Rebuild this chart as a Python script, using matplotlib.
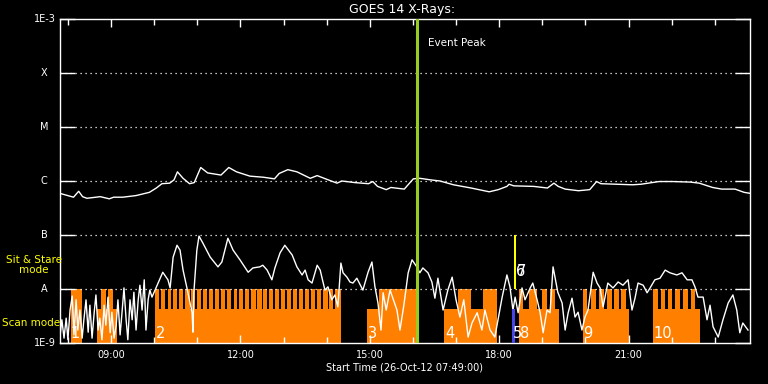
import numpy as np
import matplotlib.pyplot as plt
from matplotlib.ticker import FixedLocator, MultipleLocator, FuncFormatter

# Time axis in decimal hours (26-Oct-2012), plot spans 16 h from 07:49
START_HOUR = 7 + 49 / 60
END_HOUR = START_HOUR + 16
PEAK_HOUR = 16.10

# GOES 14 long channel (1-8 A): time (h) and log10 flux (W/m^2)
long_t = [7.82, 8.13, 8.25, 8.34, 8.44, 8.65, 8.75, 8.96, 9.06, 9.27, 9.58, 9.89,
          10.05, 10.18, 10.36, 10.46, 10.54, 10.67, 10.82, 10.93, 11.08, 11.24, 11.55,
          11.73, 11.91, 12.22, 12.53, 12.79, 12.90, 13.10, 13.31, 13.62, 13.78, 14.04,
          14.24, 14.35, 14.66, 14.97, 15.07, 15.18, 15.38, 15.49, 15.80, 16.01, 16.16,
          16.42, 16.63, 16.94, 17.35, 17.77, 17.98, 18.18, 18.23, 18.34, 18.80, 19.12,
          19.27, 19.37, 19.53, 19.84, 20.10, 20.26, 20.36, 21.09, 21.29, 21.71, 22.02,
          22.43, 22.64, 22.95, 23.16, 23.47, 23.68, 23.83]
long_logf = [-6.23, -6.30, -6.19, -6.29, -6.32, -6.30, -6.29, -6.33, -6.30, -6.30, -6.27, -6.21,
             -6.13, -6.05, -6.04, -5.98, -5.83, -5.95, -6.05, -6.03, -5.75, -5.85, -5.89,
             -5.75, -5.83, -5.91, -5.93, -5.96, -5.86, -5.79, -5.83, -5.95, -5.90, -5.98,
             -6.04, -6.00, -6.03, -6.05, -6.01, -6.10, -6.16, -6.12, -6.15, -5.96, -5.95,
             -5.98, -6.00, -6.07, -6.13, -6.20, -6.16, -6.10, -6.06, -6.09, -6.10, -6.13,
             -6.04, -6.10, -6.15, -6.18, -6.16, -6.01, -6.05, -6.07, -6.06, -6.01, -6.01,
             -6.02, -6.04, -6.12, -6.15, -6.15, -6.21, -6.23]

# GOES 14 short channel (0.5-4 A): time (h) and log10 flux (W/m^2)
short_t = [7.82, 7.86, 7.91, 7.96, 8.00, 8.05, 8.10, 8.14, 8.19, 8.23, 8.28, 8.33, 8.37,
           8.42, 8.47, 8.51, 8.56, 8.61, 8.65, 8.70, 8.74, 8.79, 8.84, 8.88, 8.93, 8.98,
           9.02, 9.07, 9.12, 9.16, 9.21, 9.25, 9.30, 9.35, 9.39, 9.44, 9.49, 9.53, 9.58,
           9.63, 9.67, 9.72, 9.77, 9.81, 9.86, 9.90, 9.95, 10.07, 10.14, 10.20, 10.32,
           10.37, 10.44, 10.53, 10.60, 10.67, 10.76, 10.88, 10.90, 10.92, 10.99, 11.04,
           11.13, 11.30, 11.48, 11.57, 11.71, 11.83, 11.99, 12.18, 12.29, 12.45, 12.52,
           12.62, 12.73, 12.80, 12.92, 13.03, 13.20, 13.31, 13.43, 13.50, 13.57, 13.66,
           13.78, 13.85, 13.96, 14.03, 14.12, 14.19, 14.26, 14.33, 14.38, 14.47, 14.54,
           14.61, 14.70, 14.84, 14.96, 15.05, 15.12, 15.19, 15.26, 15.31, 15.38, 15.47,
           15.63, 15.70, 15.79, 15.89, 15.98, 16.09, 16.16, 16.23, 16.35, 16.44, 16.51,
           16.58, 16.70, 16.81, 16.91, 17.00, 17.09, 17.18, 17.28, 17.37, 17.49, 17.60,
           17.67, 17.79, 17.90, 18.07, 18.18, 18.25, 18.32, 18.37, 18.44, 18.53, 18.60,
           18.72, 18.78, 18.88, 18.95, 19.02, 19.11, 19.18, 19.25, 19.32, 19.36, 19.46,
           19.53, 19.60, 19.69, 19.76, 19.83, 19.92, 19.99, 20.06, 20.18, 20.27, 20.34,
           20.41, 20.52, 20.64, 20.76, 20.87, 20.99, 21.08, 21.15, 21.22, 21.34, 21.43,
           21.50, 21.61, 21.73, 21.85, 21.96, 22.12, 22.24, 22.36, 22.47, 22.54, 22.61,
           22.73, 22.82, 22.89, 22.96, 23.08, 23.19, 23.31, 23.42, 23.51, 23.58, 23.65,
           23.77]
short_logf = [-8.85, -8.57, -8.91, -8.54, -8.94, -8.39, -8.13, -8.85, -8.20, -8.76, -8.39, -8.91, -8.57,
              -8.20, -8.80, -8.30, -8.91, -8.43, -8.11, -8.76, -8.54, -8.94, -8.30, -8.67, -8.15, -8.81,
              -8.43, -8.91, -8.67, -8.20, -8.85, -8.48, -7.98, -8.57, -8.94, -8.20, -8.57, -8.06, -8.76,
              -8.20, -7.93, -8.39, -7.83, -8.76, -8.20, -8.02, -8.15, -7.93, -7.80, -7.69, -7.83,
              -7.98, -7.41, -7.19, -7.28, -7.65, -7.98, -8.44, -8.80, -8.07, -7.28, -7.02,
              -7.15, -7.41, -7.59, -7.50, -7.06, -7.28, -7.46, -7.69, -7.61, -7.59, -7.56,
              -7.65, -7.83, -7.61, -7.33, -7.19, -7.37, -7.59, -7.74, -7.65, -7.83, -7.89,
              -7.56, -7.65, -8.02, -7.96, -8.20, -8.11, -8.33, -7.52, -7.70, -7.78, -7.87,
              -7.89, -7.80, -8.02, -7.69, -7.50, -7.96, -8.26, -8.76, -8.07, -8.39, -8.02,
              -8.39, -8.76, -8.30, -7.70, -7.46, -7.59, -7.70, -7.61, -7.70, -7.87, -8.17,
              -7.80, -8.39, -8.02, -7.78, -8.20, -8.52, -8.20, -8.89, -8.63, -8.44, -8.76,
              -8.39, -8.76, -8.89, -8.15, -7.74, -7.96, -8.39, -8.15, -8.44, -7.98, -8.20,
              -7.98, -7.89, -8.20, -8.44, -8.81, -8.39, -8.44, -7.59, -7.89, -8.06, -8.26,
              -8.76, -8.44, -8.17, -8.52, -8.43, -8.76, -8.52, -8.39, -7.69, -7.89, -7.98,
              -8.33, -7.89, -7.98, -7.87, -7.93, -7.83, -8.39, -8.17, -7.89, -7.93, -8.07,
              -7.98, -7.83, -7.80, -7.65, -7.70, -7.74, -7.70, -7.83, -7.83, -7.96, -8.15,
              -8.15, -8.57, -8.30, -8.70, -8.89, -8.57, -8.26, -8.11, -8.39, -8.81, -8.63,
              -8.76]

# Observation blocks (decimal hours): scan mode spans and sit & stare spans
scan_start = [8.67, 10.02, 14.94, 16.72, 18.46, 19.94, 21.57]
scan_end = [9.14, 14.33, 16.09, 17.95, 19.39, 21.01, 22.66]
stare_start = [8.07, 8.77, 8.93,
               10.02, 10.17, 10.31, 10.44, 10.58, 10.72, 10.86, 11.00, 11.14, 11.28, 11.42,
               11.56, 11.70, 11.84, 11.97, 12.11, 12.25, 12.39, 12.53, 12.67, 12.81, 12.95,
               13.09, 13.23, 13.37, 13.50, 13.64, 13.78, 13.92, 14.06, 14.20,
               15.21, 17.05, 17.63,
               18.46, 18.69, 18.99, 19.18,
               19.94, 20.13, 20.32, 20.50, 20.66, 20.83,
               21.57, 21.75, 21.92, 22.08, 22.26, 22.45]
stare_end = [8.33, 8.88, 9.05,
             10.12, 10.26, 10.40, 10.54, 10.68, 10.82, 10.95, 11.09, 11.23, 11.37, 11.51,
             11.65, 11.79, 11.93, 12.07, 12.21, 12.35, 12.49, 12.62, 12.76, 12.90, 13.04,
             13.18, 13.32, 13.46, 13.60, 13.74, 13.88, 14.02, 14.15, 14.33,
             16.09, 17.35, 17.95,
             18.55, 18.88, 19.11, 19.29,
             20.04, 20.25, 20.43, 20.62, 20.78, 20.94,
             21.68, 21.85, 22.01, 22.19, 22.38, 22.54]
blue_block = (18.30, 18.37)
yellow_block = (18.35, 18.39)

block_names = ["1", "2", "3", "4", "5", "8", "9", "10", "6", "7"]
block_hours = [8.07, 10.04, 14.96, 16.74, 18.32, 18.49, 19.95, 21.58, 18.38, 18.40]
block_flux = [1.5e-9] * 8 + [2.1e-8, 2.1e-8]

ytick_vals = [1e-9, 1e-8, 1e-7, 1e-6, 1e-5, 1e-4, 1e-3]
ytick_text = ["1E-9", "A", "B", "C", "M", "X", "1E-3"]

FLOOR = 1e-9
SCAN_TOP = 4.2e-9
STARE_TOP = 1e-8
ORANGE = "#ff8000"

plt.rcParams["font.family"] = "DejaVu Sans"
fig = plt.figure(figsize=(7.68, 3.84), dpi=100, facecolor="black")
ax = fig.add_axes([60 / 768, 1 - 343 / 384, 690 / 768, 324 / 384])
ax.set_facecolor("black")
ax.set_yscale("log")
ax.set_xlim(START_HOUR, END_HOUR)
ax.set_ylim(1e-9, 1e-3)

# observation blocks
ax.bar(scan_start, np.array([SCAN_TOP - FLOOR] * len(scan_start)),
       width=np.array(scan_end) - np.array(scan_start), bottom=FLOOR,
       align="edge", color=ORANGE, linewidth=0, zorder=1)
ax.bar(stare_start, np.array([STARE_TOP - FLOOR] * len(stare_start)),
       width=np.array(stare_end) - np.array(stare_start), bottom=FLOOR,
       align="edge", color=ORANGE, linewidth=0, zorder=1)
ax.bar(blue_block[0], SCAN_TOP - FLOOR, width=blue_block[1] - blue_block[0],
       bottom=FLOOR, align="edge", color="#4646e6", linewidth=0, zorder=4)
ax.bar(yellow_block[0], 1e-7 - 1e-8, width=yellow_block[1] - yellow_block[0],
       bottom=1e-8, align="edge", color="#ffff00", linewidth=0, zorder=4)

# dotted grid at the class levels
for lev in ytick_vals[1:-1]:
    ax.axhline(lev, color="white", linestyle=(0, (1, 3)), linewidth=0.9, zorder=2)

# GOES curves
ax.plot(long_t, np.power(10.0, long_logf), color="white", linewidth=1, zorder=3)
ax.plot(short_t, np.power(10.0, short_logf), color="white", linewidth=1, zorder=3)

# event peak
ax.axvline(PEAK_HOUR, color="#99cc22", linewidth=2.2, zorder=5)
ax.text(16.35, 3.6e-4, "Event Peak", color="white", fontsize=7.5, va="center", ha="left")

for name, h, f in zip(block_names, block_hours, block_flux):
    ax.text(h, f, name, color="white", fontsize=10.5, ha="left", va="center", zorder=6)

# axes styling
for sp in ax.spines.values():
    sp.set_color("white")
    sp.set_linewidth(1)
ax.xaxis.set_major_locator(FixedLocator([9, 12, 15, 18, 21]))
ax.xaxis.set_minor_locator(MultipleLocator(1))
ax.xaxis.set_major_formatter(FuncFormatter(lambda v, p: "%02d:00" % int(round(v))))
ax.tick_params(axis="x", which="both", direction="in", top=True, colors="white",
               labelsize=7, pad=5)
ax.tick_params(axis="x", which="major", length=6, width=1)
ax.tick_params(axis="x", which="minor", length=4, width=1)
ax.yaxis.set_major_locator(FixedLocator(ytick_vals))
ax.yaxis.set_minor_locator(FixedLocator([]))
ax.tick_params(axis="y", which="major", direction="in", right=True, length=11,
               width=1, colors="white", labelleft=False)

ytrans = ax.get_yaxis_transform()
for v, t in zip(ytick_vals, ytick_text):
    if t.startswith("1E"):
        ax.text(-4 / 690, v, t, transform=ytrans, color="white", fontsize=7,
                ha="right", va="center")
    else:
        ax.text(-16 / 690, v, t, transform=ytrans, color="white", fontsize=7,
                ha="center", va="center")

ax.text(-26 / 690, 2.78e-8, "Sit & Stare\nmode", transform=ytrans, color="#ffff00",
        fontsize=7.5, ha="center", va="center", linespacing=1.1)
ax.text(-58 / 690, 2.35e-9, "Scan mode", transform=ytrans, color="#ffff00",
        fontsize=7.5, ha="left", va="center")

fig.text(402 / 768, 1 - 10 / 384, "GOES 14 X-Rays:", color="white", fontsize=9,
         ha="center", va="center")
fig.text(405 / 768, 1 - 368 / 384, "Start Time (26-Oct-12 07:49:00)", color="white",
         fontsize=7, ha="center", va="center")

fig.savefig("out.png", dpi=100, facecolor="black")
